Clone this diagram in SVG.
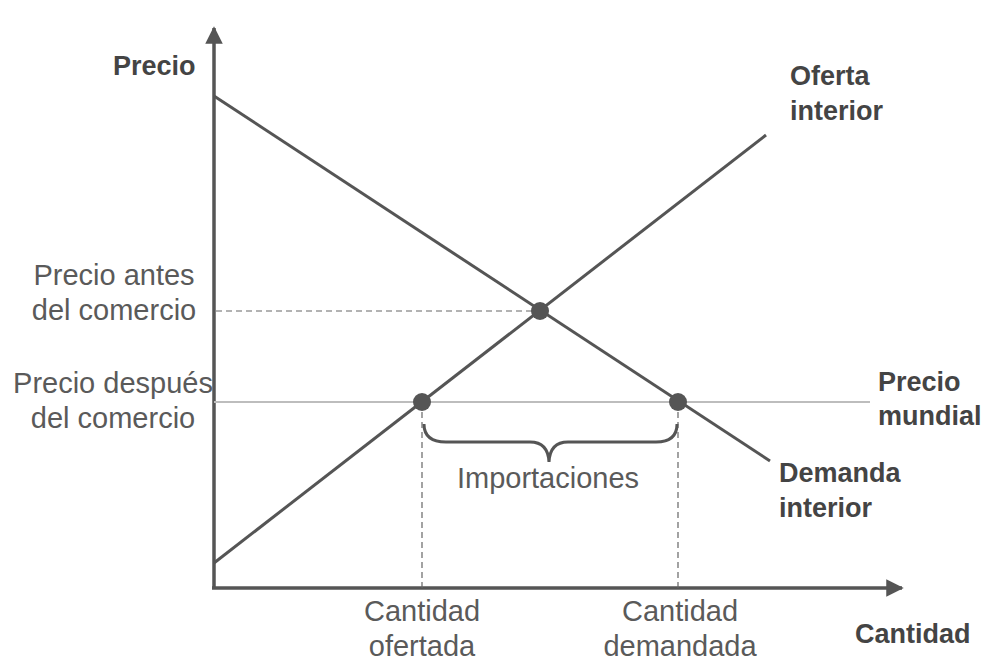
<svg xmlns="http://www.w3.org/2000/svg" width="990" height="666" viewBox="0 0 990 666">
<defs>
<marker id="arr" viewBox="0 0 10 10" refX="9" refY="5" markerWidth="5" markerHeight="5" markerUnits="strokeWidth" orient="auto">
<path d="M0,0 L10,5 L0,10 z" fill="#555"/>
</marker>
<style>
.t{font-family:"Liberation Sans",Arial,sans-serif;font-size:29px;fill:#5a5a5a}
.b{font-family:"Liberation Sans",Arial,sans-serif;font-size:27px;font-weight:bold;fill:#444}
.ax{stroke:#555;stroke-width:3.5;fill:none}
.cv{stroke:#555;stroke-width:3;fill:none}
.dash{stroke:#666;stroke-width:1.2;stroke-dasharray:6,4;fill:none}
.dot{fill:#555}
</style>
</defs>
<rect width="990" height="666" fill="#fff"/>
<g id="connectors">
<line class="ax" x1="214" y1="589" x2="214" y2="28" marker-end="url(#arr)"/>
<line class="ax" x1="212" y1="588" x2="902" y2="588" marker-end="url(#arr)"/>
<line x1="214" y1="402" x2="870" y2="402" stroke="#bdbdbd" stroke-width="2"/>
<line class="dash" x1="216" y1="311" x2="540" y2="311"/>
<line class="dash" x1="422" y1="402" x2="422" y2="588"/>
<line class="dash" x1="678" y1="402" x2="678" y2="588"/>
<line class="cv" x1="214" y1="96" x2="770" y2="461"/>
<line class="cv" x1="214" y1="563" x2="766" y2="135"/>
<path class="cv" d="M424,424 Q424,442 446,442 L530,442 Q548,442 549,462 Q550,442 568,442 L656,442 Q677,442 677,424" stroke-width="2.5"/>
</g>
<g id="nodes">
<circle class="dot" cx="540" cy="311" r="9"/>
<circle class="dot" cx="422" cy="402" r="9"/>
<circle class="dot" cx="678" cy="402" r="9"/>
</g>
<g id="labels">
<text class="b" x="113" y="75">Precio</text>
<text class="b" x="790" y="85">Oferta</text>
<text class="b" x="790" y="120">interior</text>
<text class="b" x="878" y="391">Precio</text>
<text class="b" x="878" y="425">mundial</text>
<text class="b" x="779" y="482">Demanda</text>
<text class="b" x="779" y="517">interior</text>
<text class="b" x="855" y="643">Cantidad</text>
<text class="t" x="114" y="285" text-anchor="middle">Precio antes</text>
<text class="t" x="114" y="320" text-anchor="middle">del comercio</text>
<text class="t" x="113" y="393" text-anchor="middle">Precio después</text>
<text class="t" x="113" y="428" text-anchor="middle">del comercio</text>
<text class="t" x="548" y="488" text-anchor="middle">Importaciones</text>
<text class="t" x="422" y="621" text-anchor="middle">Cantidad</text>
<text class="t" x="422" y="656" text-anchor="middle">ofertada</text>
<text class="t" x="680" y="621" text-anchor="middle">Cantidad</text>
<text class="t" x="680" y="656" text-anchor="middle">demandada</text>
</g>
</svg>
